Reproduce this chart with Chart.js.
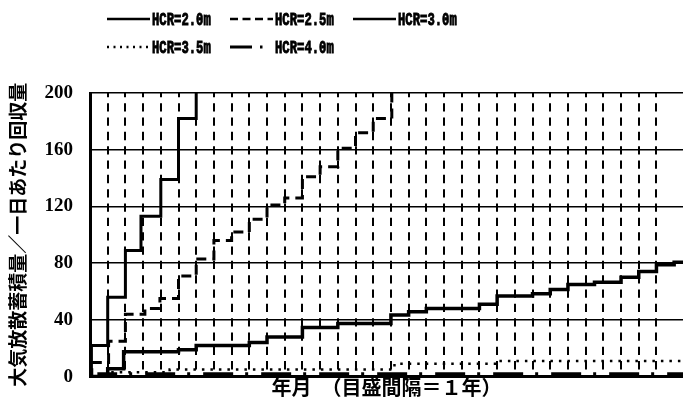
<!DOCTYPE html>
<html>
<head>
<meta charset="utf-8">
<script src="https://cdn.jsdelivr.net/npm/chart.js@4.4.1/dist/chart.umd.min.js"></script>
<style>
  html, body { margin: 0; padding: 0; background: #fff; }
  #wrap { width: 683px; height: 405px; position: relative; }
</style>
</head>
<body>
<div id="wrap"><canvas id="hcrChart"></canvas></div>
<script>
// 系列ラベル
const seriesLabels = ["HCR=2.0m", "HCR=2.5m", "HCR=3.0m", "HCR=3.5m", "HCR=4.0m"];

// 各系列の段差位置（年）と値
const hcr20Years = [0, 0.08, 1.0, 2.0, 2.88, 4.0, 5.0, 6.0];
const hcr20Values = [0, 22, 56, 89, 113, 139, 182, 220];

const hcr25Years = [0, 0.1, 1.05, 2.0, 3.1, 3.95, 5.0, 6.0, 7.0, 8.0, 9.0, 10.0, 11.0, 12.0, 13.0, 14.0, 15.0, 16.0, 17.05];
const hcr25Values = [0, 10, 25, 44, 48, 55, 71, 83, 96, 102, 111, 121, 126, 141, 148, 161, 172, 182, 215];

const hcr30Years = [0, 1.0, 1.9, 5, 6, 9, 10, 12, 14, 17, 18, 19, 22, 23, 25, 26, 27, 28.5, 30, 31, 32, 33, 34];
const hcr30Values = [0, 5.6, 17.5, 19, 22, 24, 28, 34.6, 37.5, 43.5, 45.8, 48, 51, 56.8, 58.4, 61.4, 65, 66.5, 70, 74.2, 78.8, 80.7, 80.7];

const hcr35Years = [0, 1.2, 4.5, 17.2, 23.2, 34];
const hcr35Values = [0, 3, 5, 9, 11, 11];

const hcr40Years = [0, 0.5, 34];
const hcr40Values = [0, 2, 2];

// 軸の目盛
const yTickValues = [0, 40, 80, 120, 160, 200];
const yAxisTitle = "大気放散蓄積量／一日あたり回収量";
const xAxisTitle = "年月　（目盛間隔＝１年）";

function toPoints(years, values) {
  return years.map((t, i) => ({ x: t, y: values[i] }));
}

// 線の見た目（凡例と共通）
const lineStyles = [
  { width: 3, dash: [], legendWidth: 2.5, legendDash: [] },
  { width: 3, dash: [10, 6], legendWidth: 2.5, legendDash: [8, 4.5] },
  { width: 3.5, dash: [], legendWidth: 2.5, legendDash: [] },
  { width: 2.5, dash: [2.5, 6], legendWidth: 2.5, legendDash: [2, 4.5] },
  { width: 3, dash: [30, 12, 3, 13], legendWidth: 3, legendDash: [22, 8, 2.5, 30] }
];

const seriesData = [
  toPoints(hcr20Years, hcr20Values),
  toPoints(hcr25Years, hcr25Values),
  toPoints(hcr30Years, hcr30Values),
  toPoints(hcr35Years, hcr35Values),
  toPoints(hcr40Years, hcr40Values)
];

// 凡例（2段、左揃え）
const hcrLegend = {
  id: "hcrLegend",
  afterDraw(chart) {
    const ctx = chart.ctx;
    chart.data.datasets.forEach((ds, i) => {
      const st = lineStyles[i];
      const row = i < 3 ? 0 : 1;
      const col = i < 3 ? i : i - 3;
      const x = 107 + col * 123;
      const y = 19 + row * 28;
      ctx.save();
      ctx.strokeStyle = "#000";
      ctx.lineWidth = st.legendWidth;
      ctx.setLineDash(st.legendDash);
      ctx.beginPath();
      ctx.moveTo(x, y);
      ctx.lineTo(x + 43, y);
      ctx.stroke();
      ctx.setLineDash([]);
      ctx.fillStyle = "#000";
      ctx.font = 'bold 18px "Liberation Mono"';
      ctx.textBaseline = "middle";
      ctx.translate(x + 45, y + 1);
      ctx.scale(0.68, 1);
      ctx.lineWidth = 0.9;
      ctx.fillText(ds.label, 0, 0);
      ctx.strokeText(ds.label, 0, 0);
      ctx.restore();
    });
  }
};

const ctx = document.getElementById("hcrChart").getContext("2d");
new Chart(ctx, {
  type: "line",
  data: {
    datasets: seriesData.map((pts, i) => ({
      label: seriesLabels[i],
      data: pts,
      borderColor: "#000",
      backgroundColor: "#000",
      borderWidth: lineStyles[i].width,
      borderDash: lineStyles[i].dash,
      stepped: true,
      pointRadius: 0,
      fill: false
    }))
  },
  options: {
    responsive: true,
    maintainAspectRatio: false,
    animation: false,
    layout: { padding: { top: 93, left: 0, right: 0, bottom: 0 } },
    plugins: {
      legend: { display: false },
      tooltip: { enabled: false }
    },
    scales: {
      x: {
        type: "linear",
        min: 0,
        max: 33.5,
        ticks: { display: false, stepSize: 1 },
        afterBuildTicks: s => { s.ticks = s.ticks.filter(t => Number.isInteger(t.value)); },
        afterFit: s => { s.height = 25; },
        grid: { color: "#000", lineWidth: 2, drawTicks: false },
        border: { display: true, color: "#000", width: 3, dash: [8.3, 6.03], dashOffset: 4.15 },
        title: {
          display: true,
          text: xAxisTitle,
          color: "#000",
          font: { family: '"Noto Sans CJK JP"', size: 20, weight: "bold", lineHeight: 1.2 },
          padding: { top: 0, bottom: 2 }
        }
      },
      y: {
        min: 0,
        max: 200,
        afterBuildTicks: s => { s.ticks = yTickValues.map(v => ({ value: v })); },
        afterFit: s => { s.width = 90; },
        ticks: {
          color: "#000",
          padding: 17,
          font: { family: '"Liberation Serif"', size: 19, weight: "bold" }
        },
        grid: { color: "#000", lineWidth: 1.5, drawTicks: false },
        border: { display: true, color: "#000", width: 3 },
        title: {
          display: true,
          text: yAxisTitle,
          color: "#000",
          font: { family: '"Noto Sans CJK JP"', size: 19, weight: "bold", lineHeight: 1.2 },
          padding: { top: 6, bottom: 0 }
        }
      }
    }
  },
  plugins: [hcrLegend]
});
</script>
</body>
</html>
